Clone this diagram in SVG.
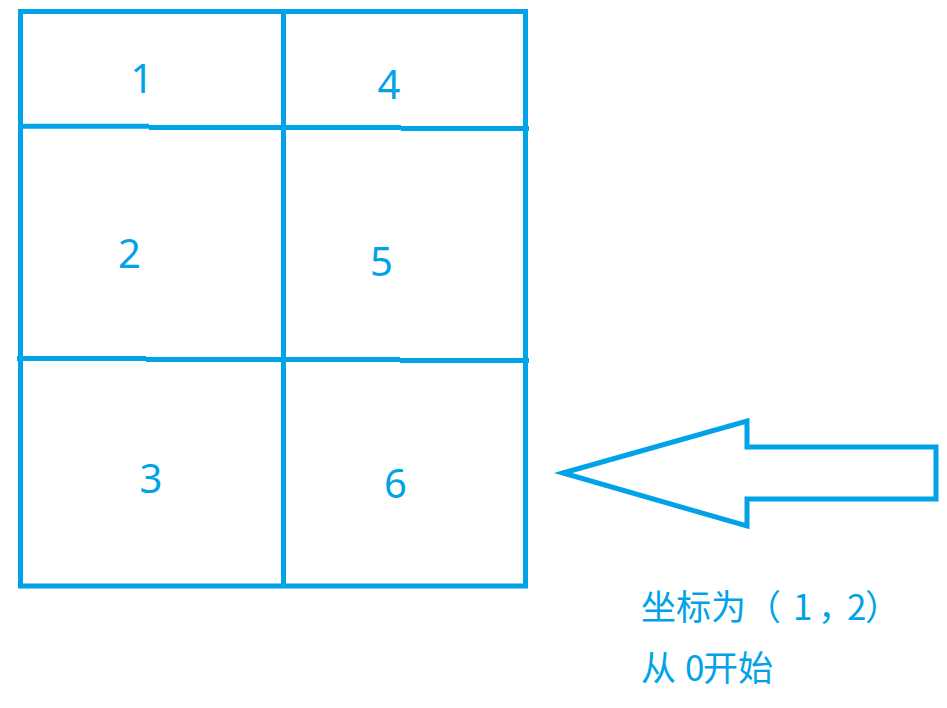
<svg xmlns="http://www.w3.org/2000/svg" width="947" height="708" viewBox="0 0 947 708">
<style>
.ln{stroke:#00A2E8;stroke-width:5;fill:none;stroke-linecap:butt}
.num{font-family:"Noto Sans","Liberation Sans",sans-serif;font-size:40px;fill:#00A2E8;text-anchor:middle}
.cn{font-family:"Noto Sans CJK SC","Noto Sans",sans-serif;font-size:35px;fill:#00A2E8}
</style>
<rect width="947" height="708" fill="#ffffff"/>
<g id="connectors">
<g id="grid">
<rect class="ln" x="20.5" y="11.5" width="505" height="574.5"/>
<line class="ln" x1="283.5" y1="11.5" x2="283.5" y2="586"/>
<line class="ln" x1="20.5" y1="126.3" x2="149" y2="126.3"/>
<line class="ln" x1="149" y1="127.4" x2="401" y2="127.4"/>
<line class="ln" x1="401" y1="128.4" x2="529" y2="128.4"/>
<line class="ln" x1="17" y1="358.5" x2="146" y2="358.5"/>
<line class="ln" x1="146" y1="359.5" x2="400" y2="359.5"/>
<line class="ln" x1="400" y1="360.5" x2="529" y2="360.5"/>
</g>
<g id="arrow">
<polygon class="ln" stroke-linejoin="miter" points="563,473 747,421 747,447 936,447 936,499 747,499 747,526"/>
</g>
</g>
<g id="cell1"><text class="num" x="142" y="93">1</text></g>
<g id="cell2"><text class="num" x="129.5" y="268">2</text></g>
<g id="cell3"><text class="num" x="151" y="493">3</text></g>
<g id="cell4"><text class="num" x="389" y="99">4</text></g>
<g id="cell5"><text class="num" x="381.5" y="276">5</text></g>
<g id="cell6"><text class="num" x="395.5" y="498">6</text></g>
<g id="label">
<text class="cn" x="641 676 711 746 793 818 847 865" y="620">坐标为（1，2）</text>
<text class="cn" x="641 685 703 738" y="681">从0开始</text>
</g>
</svg>
